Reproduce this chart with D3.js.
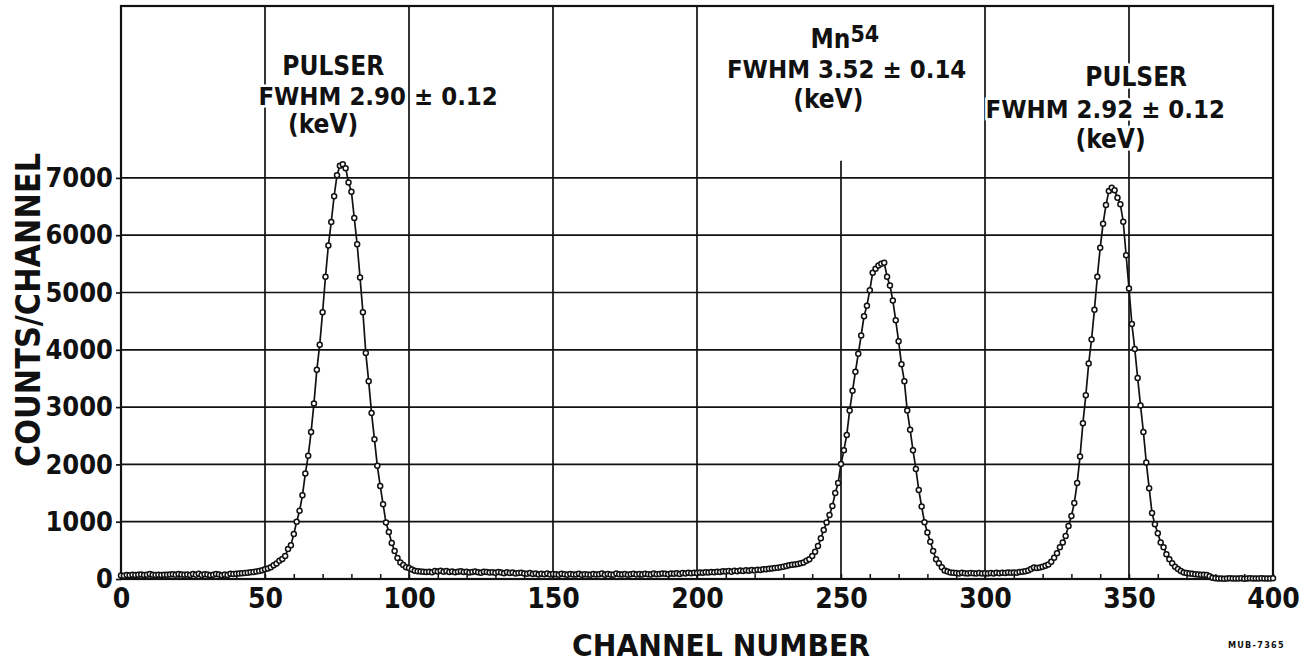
<!DOCTYPE html>
<html>
<head>
<meta charset="utf-8">
<script src="https://cdn.jsdelivr.net/npm/d3@7"></script>
<style>
body { margin: 0; background: #fff; }
svg { display: block; }
text { font-family: "DejaVu Sans Condensed", "DejaVu Sans", sans-serif; font-weight: bold; fill: #111; font-stretch: condensed; }
</style>
</head>
<body>
<svg id="chart" width="1309" height="665"></svg>
<script>
// counts per channel, channel = index (0..400)
var counts = [
  62, 58, 70, 66, 74, 68, 72, 80, 70, 76,
  88, 74, 68, 72, 70, 76, 72, 78, 82, 74,
  86, 78, 72, 80, 70, 88, 76, 92, 70, 84,
  78, 66, 72, 88, 80, 64, 78, 68, 90, 86,
  92, 96, 100, 104, 108, 116, 122, 130, 140, 152,
  170, 185, 205, 240, 270, 320, 350, 400, 525, 590,
  785, 1000, 1190, 1460, 1840, 2150, 2565, 3065, 3650, 4090,
  4655, 5275, 5820, 6230, 6680, 7045, 7210, 7240, 7170, 6920,
  6760, 6300, 5840, 5260, 4655, 3945, 3450, 2895, 2440, 1975,
  1625, 1305, 985, 820, 630, 490, 365, 290, 245, 205,
  190, 165, 145, 135, 130, 125, 120, 128, 118, 140,
  132, 145, 128, 138, 122, 130, 118, 126, 134, 120,
  128, 115, 124, 132, 118, 110, 126, 120, 112, 118,
  108, 122, 114, 100, 118, 106, 112, 96, 104, 110,
  98, 92, 104, 86, 96, 80, 90, 84, 94, 78,
  88, 82, 76, 90, 84, 72, 86, 80, 78, 92,
  76, 84, 80, 74, 88, 78, 82, 94, 76, 86,
  80, 74, 96, 82, 78, 88, 72, 84, 90, 80,
  86, 78, 92, 84, 80, 94, 82, 88, 96, 90,
  84, 98, 92, 100, 88, 104, 96, 108, 102, 110,
  106, 114, 108, 118, 112, 124, 116, 128, 122, 134,
  130, 138, 126, 144, 136, 148, 140, 152, 146, 158,
  150, 162, 156, 168, 172, 178, 184, 190, 196, 205,
  212, 225, 240, 248, 255, 262, 275, 290, 320, 345,
  400, 475, 575, 710, 855, 985, 1115, 1275, 1500, 1675,
  2005, 2245, 2515, 2940, 3285, 3615, 3930, 4250, 4585, 4770,
  5040, 5345, 5415, 5470, 5500, 5520, 5275, 5120, 4860, 4515,
  4150, 3750, 3450, 2940, 2605, 2245, 1920, 1555, 1265, 990,
  810, 650, 490, 345, 275, 205, 150, 130, 115, 108,
  104, 98, 110, 102, 96, 106, 100, 94, 104, 98,
  100, 96, 104, 98, 108, 102, 110, 104, 112, 108,
  115, 110, 120, 126, 134, 150, 175, 200, 190, 200,
  215, 230, 255, 300, 370, 450, 555, 635, 750, 925,
  1100, 1325, 1675, 2140, 2720, 3205, 3760, 4180, 4700, 5275,
  5780, 6200, 6525, 6770, 6830, 6785, 6655, 6540, 6235, 5650,
  5070, 4450, 4015, 3510, 3030, 2565, 2035, 1585, 1150, 955,
  800, 635, 555, 430, 345, 275, 215, 175, 140, 115,
  105, 95, 90, 85, 80, 75, 72, 70, 50, 20,
  12, 8, 10, 6, 9, 12, 7, 10, 8, 11,
  6, 9, 12, 8, 10, 7, 11, 9, 8, 10,
  12
]

var xTicks = [0, 50, 100, 150, 200, 250, 300, 350, 400]
var yTicks = [0, 1000, 2000, 3000, 4000, 5000, 6000, 7000]
var xGrid = [50, 100, 150, 200, 250, 300, 350]
var yGrid = [1000, 2000, 3000, 4000, 5000, 6000, 7000]

var peakLabels = [
  { lines: ["PULSER", "FWHM 2.90 \u00b1 0.12", "(keV)"] },
  { lines: ["Mn", "FWHM 3.52 \u00b1 0.14", "(keV)"], sup: "54" },
  { lines: ["PULSER", "FWHM 2.92 \u00b1 0.12", "(keV)"] }
]

var xTitle = "CHANNEL NUMBER"
var yTitle = "COUNTS/CHANNEL"
var stamp = "MUB-7365"

var svg = d3.select("#chart")

var x = d3.scaleLinear().domain([0, 400]).range([121, 1273])
var y = d3.scaleLinear().domain([0, 10000]).range([579, 6])

// grid
svg.append("g")
  .selectAll("line")
  .data(yGrid)
  .join("line")
  .attr("x1", x(0)).attr("x2", x(400))
  .attr("y1", function(d) { return y(d) })
  .attr("y2", function(d) { return y(d) })
  .attr("stroke", "#111").attr("stroke-width", 1.7)

// the 250 line stops under the Mn label
svg.append("g")
  .selectAll("line")
  .data(xGrid)
  .join("line")
  .attr("x1", function(d) { return x(d) })
  .attr("x2", function(d) { return x(d) })
  .attr("y1", function(d) { return d == 250 ? y(7300) : y(10000) })
  .attr("y2", y(0))
  .attr("stroke", "#111").attr("stroke-width", 1.7)

// frame
svg.append("rect")
  .attr("x", x(0)).attr("y", y(10000))
  .attr("width", x(400) - x(0)).attr("height", y(0) - y(10000))
  .attr("fill", "none").attr("stroke", "#111").attr("stroke-width", 2.2)

// minor ticks on channel axis
var minor = svg.append("g")
  .attr("transform", "translate(0," + y(0) + ")")
  .call(d3.axisBottom(x).ticks(40).tickSize(-5).tickFormat(""))
minor.select(".domain").remove()
minor.selectAll("line").attr("stroke", "#111").attr("stroke-width", 1.5)

var xAxis = svg.append("g")
  .attr("transform", "translate(0," + y(0) + ")")
  .call(d3.axisBottom(x).tickValues(xTicks).tickSize(0).tickPadding(9).tickFormat(d3.format("d")))
xAxis.select(".domain").remove()
xAxis.selectAll("text").attr("font-size", 28).attr("fill", "#111")
  .attr("font-family", null)

var yAxis = svg.append("g")
  .attr("transform", "translate(" + x(0) + ",0)")
  .call(d3.axisLeft(y).tickValues(yTicks).tickSize(5).tickPadding(3).tickFormat(d3.format("d")))
yAxis.select(".domain").remove()
yAxis.selectAll("line").attr("stroke", "#111").attr("stroke-width", 1.7)
yAxis.selectAll("text").attr("font-size", 27).attr("fill", "#111")
  .attr("font-family", null)

// data line and points
var line = d3.line()
  .x(function(d, i) { return x(i) })
  .y(function(d) { return y(d) })

svg.append("path")
  .datum(counts)
  .attr("d", line)
  .attr("fill", "none")
  .attr("stroke", "#111")
  .attr("stroke-width", 1.7)

svg.append("g")
  .selectAll("circle")
  .data(counts)
  .join("circle")
  .attr("cx", function(d, i) { return x(i) })
  .attr("cy", function(d) { return y(d) })
  .attr("r", 2.5)
  .attr("fill", "#fff")
  .attr("stroke", "#111")
  .attr("stroke-width", 1.5)

// peak labels, placed in data units
var labelPos = [
  [{ x: 73.7, y: 8800, a: "middle" }, { x: 47.7, y: 8270, a: "start" }, { x: 70.2, y: 7790, a: "middle" }],
  [{ x: 239.4, y: 9270, a: "start" }, { x: 210.4, y: 8745, a: "start" }, { x: 245.6, y: 8220, a: "middle" }],
  [{ x: 352.5, y: 8600, a: "middle" }, { x: 300.2, y: 8050, a: "start" }, { x: 343.6, y: 7520, a: "middle" }]
]

peakLabels.forEach(function(lab, k) {
  lab.lines.forEach(function(s, j) {
    var p = labelPos[k][j]
    var t = svg.append("text")
      .attr("x", x(p.x)).attr("y", y(p.y))
      .attr("text-anchor", p.a)
      .attr("font-size", 26)
      .attr("paint-order", "stroke")
      .attr("stroke", "#fff").attr("stroke-width", 5)
      .text(s)
    if (j == 1) t.attr("font-size", 25.5)
    if (j == 0 && lab.sup) {
      t.append("tspan").attr("dy", -6).attr("font-size", 23).text(lab.sup)
    }
  })
})

// axis titles
svg.append("text")
  .attr("x", 721).attr("y", 656)
  .attr("text-anchor", "middle")
  .attr("font-size", 30)
  .attr("textLength", 298)
  .attr("lengthAdjust", "spacingAndGlyphs")
  .text(xTitle)

svg.append("text")
  .attr("transform", "translate(40,310) rotate(-90)")
  .attr("text-anchor", "middle")
  .attr("font-size", 33)
  .attr("textLength", 314)
  .attr("lengthAdjust", "spacingAndGlyphs")
  .text(yTitle)

svg.append("text")
  .attr("x", 1285).attr("y", 648)
  .attr("text-anchor", "end")
  .attr("font-size", 9)
  .attr("letter-spacing", 1.3)
  .text(stamp)
</script>
</body>
</html>
